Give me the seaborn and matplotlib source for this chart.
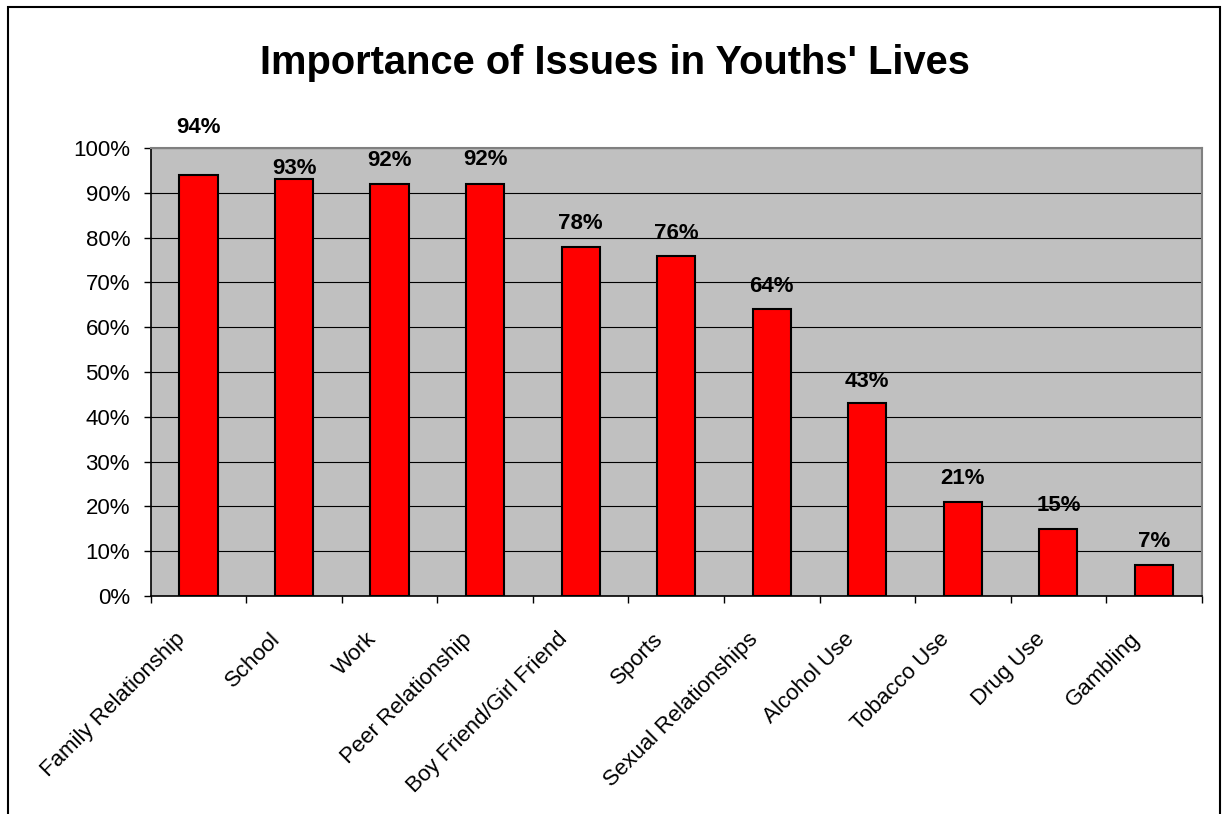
import matplotlib
matplotlib.use("Agg")
import matplotlib.pyplot as plt
import matplotlib.transforms as mtransforms
import seaborn as sns
import pandas as pd
from matplotlib.patches import Rectangle
from matplotlib.ticker import FuncFormatter, FixedLocator, NullFormatter

categories = ["Family Relationship", "School", "Work", "Peer Relationship",
              "Boy Friend/Girl Friend", "Sports", "Sexual Relationships",
              "Alcohol Use", "Tobacco Use", "Drug Use", "Gambling"]
values = [94, 93, 92, 92, 78, 76, 64, 43, 21, 15, 7]
labels = ["94%", "93%", "92%", "92%", "78%", "76%", "64%", "43%", "21%", "15%", "7%"]
title = "Importance of Issues in Youths' Lives"

# label offsets above bar tops (pixels, to label centre)
label_offsets_px = [47, 11, 23, 24, 23, 22, 23, 22, 23, 23, 23]

sns.set_theme(style="white")
plt.rcParams['font.family'] = ['Liberation Sans', 'DejaVu Sans']

W, H = 1225, 814
fig = plt.figure(figsize=(W / 100, H / 100), dpi=100)
fig.patch.set_facecolor("white")
ax = fig.add_axes([150.7 / W, 1 - 596 / H, (1201.7 - 150.7) / W, (596 - 148) / H])

df = pd.DataFrame({"cat": categories, "val": values})
sns.barplot(data=df, x="cat", y="val", ax=ax, color="#FF0000", width=0.4,
            edgecolor="black", linewidth=1.5, saturation=1)
for p in ax.patches:
    p.set_facecolor("#FF0000")
    p.set_zorder(3)

ax.set_facecolor("#C0C0C0")
ax.set_ylim(0, 100)
ax.set_xlim(-0.5, len(categories) - 0.5)
ax.set_yticks(range(0, 101, 10))
ax.yaxis.set_major_formatter(FuncFormatter(lambda v, _: f"{int(v)}%"))
ax.grid(axis="y", color="black", linewidth=0.8, zorder=1)
ax.set_axisbelow(True)
ax.set_xlabel("")
ax.set_ylabel("")

# x ticks: labels at category centres, tick marks at boundaries
ax.set_xticks(range(len(categories)))
ax.set_xticklabels(categories, rotation=45, ha="right", va="top",
                   rotation_mode="anchor", fontsize=16)
ax.xaxis.set_minor_locator(FixedLocator([i - 0.5 for i in range(len(categories) + 1)]))
ax.xaxis.set_minor_formatter(NullFormatter())
ax.tick_params(axis="x", which="major", length=0, pad=14)
ax.tick_params(axis="x", which="minor", length=5, width=1, color="black", direction="out", bottom=True)
ax.tick_params(axis="y", which="major", length=5, width=1, color="black", direction="out",
               left=True, labelsize=16, pad=9.9)
shift = mtransforms.ScaledTranslation(-24 / 100, -13 / 100, fig.dpi_scale_trans)
for lab in ax.get_yticklabels():
    lab.set_color("black")
for lab in ax.get_xticklabels():
    lab.set_color("black")
    lab.set_transform(lab.get_transform() + shift)

for side in ["top", "right"]:
    ax.spines[side].set_color("#808080")
    ax.spines[side].set_linewidth(1.5)
for side in ["left", "bottom"]:
    ax.spines[side].set_color("black")
    ax.spines[side].set_linewidth(1.2)

for i, (v, lab) in enumerate(zip(values, labels)):
    ax.annotate(lab, xy=(i, v), xytext=(0, label_offsets_px[i] * 0.72),
                textcoords="offset points", ha="center", va="center",
                fontsize=16, fontweight="bold", color="black", annotation_clip=False)

fig.text(615 / W, 1 - 63 / H, title, ha="center", va="center",
         fontsize=28.7, fontweight="bold", color="black")

fig.add_artist(Rectangle((8 / W, -0.1), (1220 - 8) / W, 1 - 7 / H + 0.1,
                         transform=fig.transFigure, fill=False,
                         edgecolor="black", linewidth=1.5))

fig.savefig("out.png", dpi=100)
